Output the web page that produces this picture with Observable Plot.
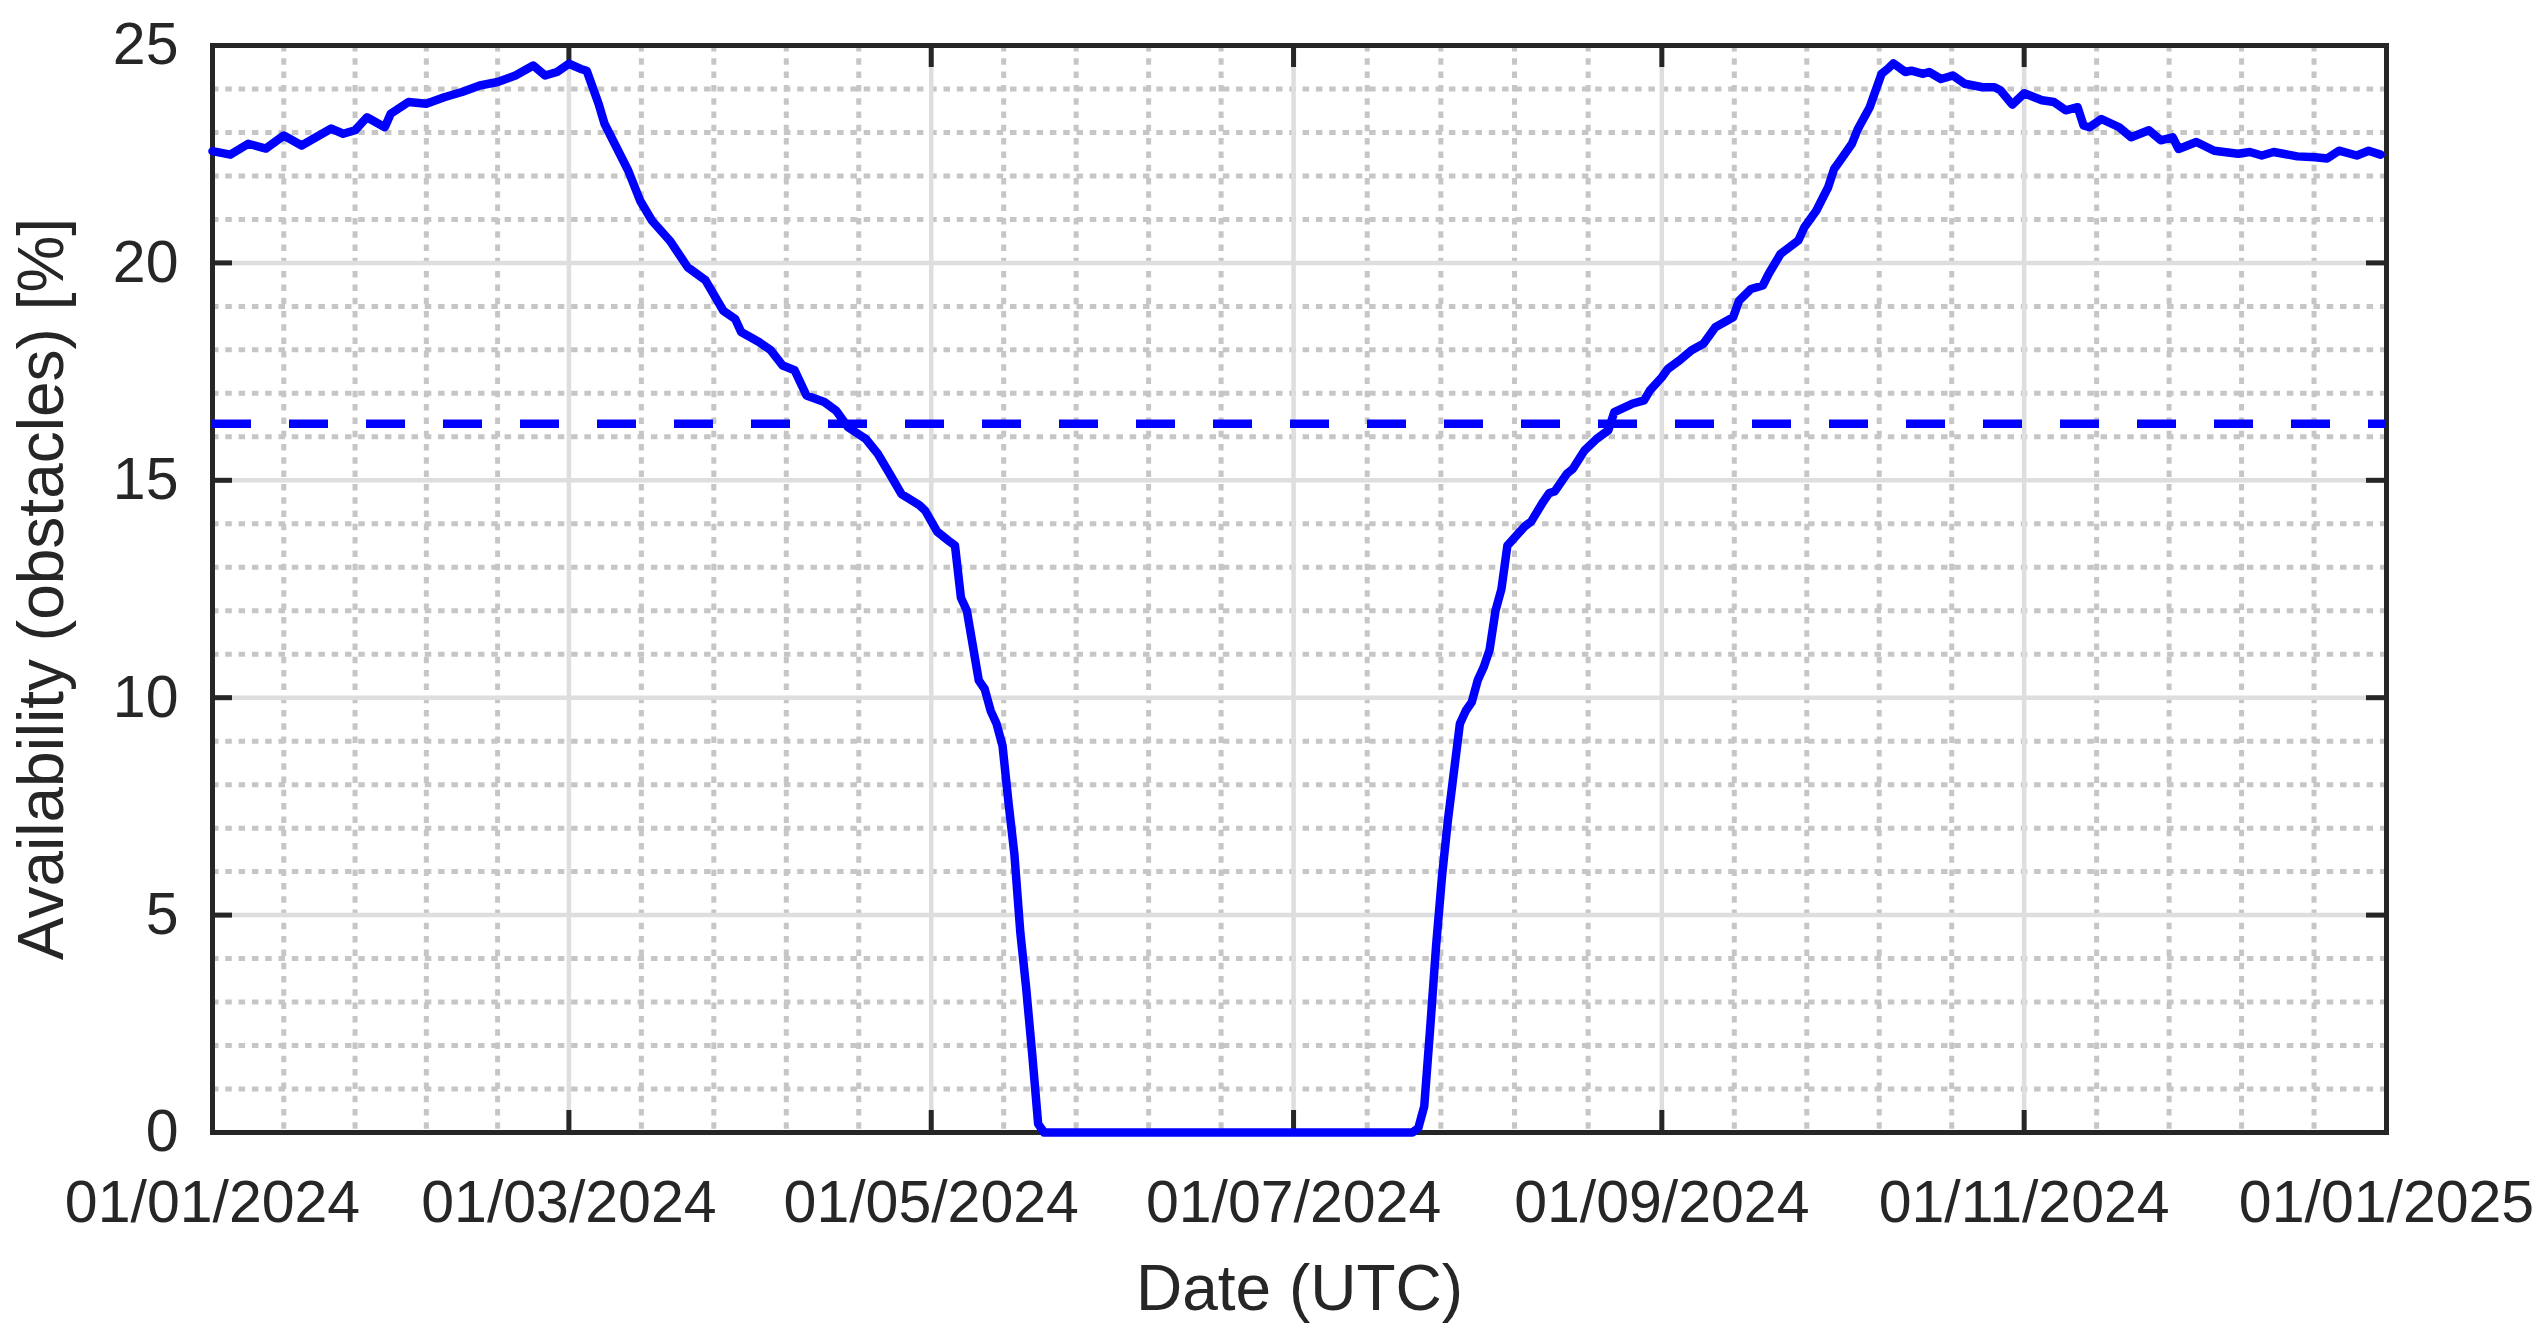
<!DOCTYPE html>
<html>
<head>
<meta charset="utf-8">
<script src="https://cdn.jsdelivr.net/npm/d3@7"></script>
<script src="https://cdn.jsdelivr.net/npm/@observablehq/plot@0.6"></script>
<style>
  html, body { margin: 0; padding: 0; background: #ffffff; }
  #chart svg { display: block; }
</style>
</head>
<body>
<div id="chart"></div>
<script>
// ---- Data ----
const dates = [
  "2024-01-01","2024-01-04","2024-01-07","2024-01-10","2024-01-13","2024-01-16","2024-01-21","2024-01-23","2024-01-25","2024-01-27",
  "2024-01-30","2024-01-31","2024-02-03","2024-02-06","2024-02-09","2024-02-12","2024-02-15","2024-02-18","2024-02-21","2024-02-24",
  "2024-02-26","2024-02-28","2024-03-01","2024-03-03","2024-03-04","2024-03-06","2024-03-07","2024-03-09","2024-03-11","2024-03-13",
  "2024-03-15","2024-03-18","2024-03-21","2024-03-24","2024-03-27","2024-03-29","2024-03-30","2024-04-02","2024-04-04","2024-04-06",
  "2024-04-08","2024-04-10","2024-04-13","2024-04-15","2024-04-17","2024-04-20","2024-04-22","2024-04-24","2024-04-26","2024-04-29",
  "2024-04-30","2024-05-02","2024-05-04","2024-05-05","2024-05-06","2024-05-07","2024-05-08","2024-05-09","2024-05-10","2024-05-11",
  "2024-05-12","2024-05-13","2024-05-14","2024-05-15","2024-05-16","2024-05-17","2024-05-18","2024-05-19","2024-05-20","2024-07-21",
  "2024-07-22","2024-07-23","2024-07-24","2024-07-25","2024-07-26","2024-07-27","2024-07-28","2024-07-29","2024-07-30","2024-07-31",
  "2024-08-01","2024-08-02","2024-08-03","2024-08-04","2024-08-05","2024-08-06","2024-08-08","2024-08-09","2024-08-10","2024-08-12",
  "2024-08-13","2024-08-14","2024-08-16","2024-08-17","2024-08-19","2024-08-21","2024-08-23","2024-08-24","2024-08-27","2024-08-29",
  "2024-08-30","2024-09-01","2024-09-02","2024-09-04","2024-09-06","2024-09-08","2024-09-10","2024-09-13","2024-09-14","2024-09-16",
  "2024-09-18","2024-09-19","2024-09-21","2024-09-24","2024-09-25","2024-09-27","2024-09-29","2024-09-30","2024-10-01","2024-10-03",
  "2024-10-04","2024-10-06","2024-10-07","2024-10-08","2024-10-09","2024-10-10","2024-10-12","2024-10-13","2024-10-15","2024-10-16",
  "2024-10-18","2024-10-20","2024-10-22","2024-10-25","2024-10-27","2024-10-28","2024-10-30","2024-11-01","2024-11-04","2024-11-06",
  "2024-11-08","2024-11-10","2024-11-11","2024-11-12","2024-11-14","2024-11-17","2024-11-19","2024-11-22","2024-11-24","2024-11-26",
  "2024-11-27","2024-11-30","2024-12-03","2024-12-07","2024-12-09","2024-12-11","2024-12-13","2024-12-17","2024-12-20","2024-12-22",
  "2024-12-24","2024-12-27","2024-12-29","2024-12-31"
];
const values = [
  22.57,22.49,22.74,22.63,22.93,22.70,23.09,22.97,23.05,23.35,
  23.12,23.43,23.70,23.66,23.81,23.93,24.08,24.16,24.31,24.54,
  24.31,24.39,24.58,24.46,24.42,23.66,23.20,22.66,22.12,21.43,
  20.97,20.51,19.90,19.60,18.90,18.71,18.41,18.18,17.99,17.64,
  17.53,16.95,16.80,16.60,16.22,15.95,15.61,15.15,14.68,14.43,
  14.30,13.82,13.60,13.50,12.30,12.00,11.20,10.40,10.20,9.70,
  9.40,8.90,7.60,6.40,4.60,3.30,1.80,0.20,0,0,
  0.10,0.60,2.40,4.30,5.90,7.20,8.30,9.40,9.70,9.90,
  10.40,10.70,11.10,12.00,12.50,13.50,13.80,13.95,14.05,14.50,
  14.70,14.75,15.15,15.26,15.69,15.95,16.15,16.57,16.76,16.84,
  17.07,17.37,17.56,17.76,17.99,18.14,18.52,18.75,19.13,19.40,
  19.48,19.75,20.21,20.52,20.82,21.20,21.74,22.16,22.35,22.74,
  23.08,23.58,23.97,24.35,24.46,24.59,24.39,24.42,24.35,24.39,
  24.23,24.31,24.12,24.04,24.04,23.97,23.64,23.90,23.74,23.70,
  23.51,23.58,23.16,23.12,23.31,23.12,22.89,23.05,22.82,22.89,
  22.62,22.78,22.58,22.51,22.55,22.47,22.55,22.45,22.43,22.40,
  22.58,22.47,22.58,22.49
];
const threshold = 16.3;

const xTickDates = ["2024-01-01","2024-03-01","2024-05-01","2024-07-01","2024-09-01","2024-11-01","2025-01-01"];
const xTickLabels = ["01/01/2024","01/03/2024","01/05/2024","01/07/2024","01/09/2024","01/11/2024","01/01/2025"];
const yTicks = [0, 5, 10, 15, 20, 25];
const yTickLabels = ["0", "5", "10", "15", "20", "25"];
const yMinorTicks = [1,2,3,4,6,7,8,9,11,12,13,14,16,17,18,19,21,22,23,24];
const xLabel = "Date (UTC)";
const yLabel = "Availability (obstacles) [%]";

// ---- Build tables ----
const series = dates.map((d, i) => ({date: new Date(d + "T00:00:00Z"), value: values[i]}));
const xTicks = xTickDates.map(d => new Date(d + "T00:00:00Z"));
const xLabelMap = new Map(xTicks.map((d, i) => [+d, xTickLabels[i]]));
const yLabelMap = new Map(yTicks.map((d, i) => [d, yTickLabels[i]]));
// minor x grid: 4 equally spaced between consecutive major ticks
const xMinor = [];
for (let i = 0; i < xTicks.length - 1; i++) {
  const a = +xTicks[i], b = +xTicks[i + 1];
  for (let k = 1; k < 5; k++) xMinor.push(new Date(a + (b - a) * k / 5));
}

const W = 2548, H = 1342;
const mL = 212, mR = 162, mT = 45, mB = 210;
const fw = W - mL - mR, fh = H - mT - mB;
const axisColor = "#262626";
const font = "'Liberation Sans', Arial, Helvetica, sans-serif";

const chart = Plot.plot({
  width: W,
  height: H,
  marginLeft: mL,
  marginRight: mR,
  marginTop: mT,
  marginBottom: mB,
  x: {type: "utc", domain: [xTicks[0], xTicks[xTicks.length - 1]]},
  y: {domain: [0, 25]},
  style: {fontFamily: font, color: axisColor, background: "#ffffff", overflow: "visible"},
  marks: [
    // minor dotted grid
    Plot.ruleX(xMinor, {stroke: "#c6c6c6", strokeWidth: 5, strokeDasharray: "6.5,6.8"}),
    Plot.ruleY(yMinorTicks, {stroke: "#c6c6c6", strokeWidth: 5, strokeDasharray: "6.5,6.8"}),
    // major grid
    Plot.ruleX(xTicks, {stroke: "#dedede", strokeWidth: 4.5}),
    Plot.ruleY(yTicks, {stroke: "#dedede", strokeWidth: 4.5}),
    // box
    Plot.frame({stroke: axisColor, strokeWidth: 5}),
    // inward ticks (bottom, top, left, right)
    Plot.tickX(xTicks, {x: d => d, stroke: axisColor, strokeWidth: 5, insetTop: fh - 22}),
    Plot.tickX(xTicks, {x: d => d, stroke: axisColor, strokeWidth: 5, insetBottom: fh - 22}),
    Plot.tickY(yTicks, {y: d => d, stroke: axisColor, strokeWidth: 5, insetRight: fw - 20}),
    Plot.tickY(yTicks, {y: d => d, stroke: axisColor, strokeWidth: 5, insetLeft: fw - 20}),
    // tick labels
    Plot.axisX(xTicks, {tickSize: 0, tickPadding: 48, fontSize: 59, label: null, fill: axisColor,
      tickFormat: d => xLabelMap.get(+d)}),
    Plot.axisY(yTicks, {tickSize: 0, tickPadding: 34, fontSize: 59, label: null, fill: axisColor,
      tickFormat: d => yLabelMap.get(d)}),
    // axis titles
    Plot.text([xLabel], {frameAnchor: "bottom", dy: 132, lineAnchor: "top", textAnchor: "middle", fontSize: 64, fill: axisColor, text: d => d}),
    Plot.text([yLabel], {frameAnchor: "left", dx: -195, rotate: -90, lineAnchor: "top", textAnchor: "middle", fontSize: 64, fill: axisColor, text: d => d}),
    // dashed threshold
    Plot.ruleY([threshold], {stroke: "#0000ff", strokeWidth: 8.5, strokeDasharray: "39,38"}),
    // availability line
    Plot.line(series, {x: "date", y: "value", stroke: "#0000ff", strokeWidth: 8.5})
  ]
});
document.getElementById("chart").appendChild(chart);
</script>
</body>
</html>
